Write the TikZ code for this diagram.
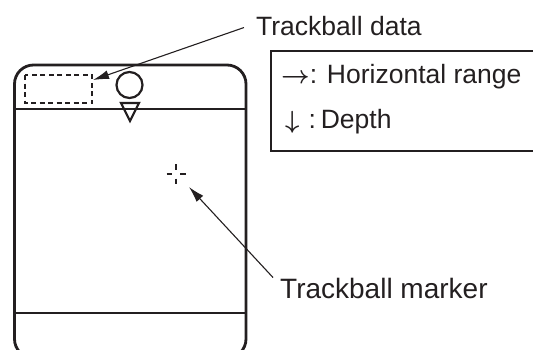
\documentclass[tikz,border=0pt]{standalone}
\usepackage{amsmath}
\usepackage{fontspec}
\setmainfont{Liberation Sans}
\usetikzlibrary{arrows.meta}
\definecolor{ink}{RGB}{35,31,32}
\begin{document}
\begin{tikzpicture}[x=1pt,y=-1pt,
  outline/.style={draw=ink,line width=2.8pt},
  thinline/.style={draw=ink,line width=2.2pt},
  leader/.style={draw=ink,line width=1.1pt,-{Latex[length=16pt,width=9pt]}},
  lbl/.style={inner sep=0pt,text=ink,anchor=base west},
  tick/.style={draw=ink,line width=2pt}]
\useasboundingbox (0,0) rectangle (533,349);
\clip (0,0) rectangle (533,349);
% screen
\draw[outline,rounded corners=19pt] (14.5,65) rectangle (246,358);
\draw[outline] (14.5,109) -- (246,109);
\draw[outline] (14.5,313) -- (246,313);
% trackball data box
\draw[thinline,dash pattern=on 5pt off 3.5pt] (25,75) rectangle (92,103);
% circle and triangle
\draw[thinline] (129.5,85) circle (13);
\draw[thinline,line join=miter] (121,103) -- (139,103) -- (130,121) -- cycle;
% crosshair
\draw[tick] (176,164) -- (176,169.5);
\draw[tick] (176,178.5) -- (176,184);
\draw[tick] (166.5,174) -- (172,174);
\draw[tick] (180,174) -- (186,174);
% legend
\draw[thinline] (540,51) -- (271,51) -- (271,151) -- (540,151);
\node[lbl,font=\fontsize{26.5}{30}\selectfont] (lg1) at (281,83) {$\boldsymbol{\rightarrow}$: Horizontal range};
\node[lbl,font=\fontsize{26.5}{30}\selectfont] (lg2) at (285,128) {$\boldsymbol{\downarrow}$\hspace{9pt}:\hspace{5pt}Depth};
% labels
\node[lbl,font=\fontsize{26.5}{30}\selectfont] (td) at (256,35) {Trackball data};
\node[lbl,font=\fontsize{28}{32}\selectfont] (tm) at (280,298) {Trackball marker};
\coordinate (dataTip) at (93,80);
\coordinate (markTip) at (189,187);
\draw[leader] ([xshift=-12pt,yshift=-2pt]td.west) -- (dataTip);
\draw[leader] ([xshift=-7pt]tm.north west) -- (markTip);
\end{tikzpicture}
\end{document}
